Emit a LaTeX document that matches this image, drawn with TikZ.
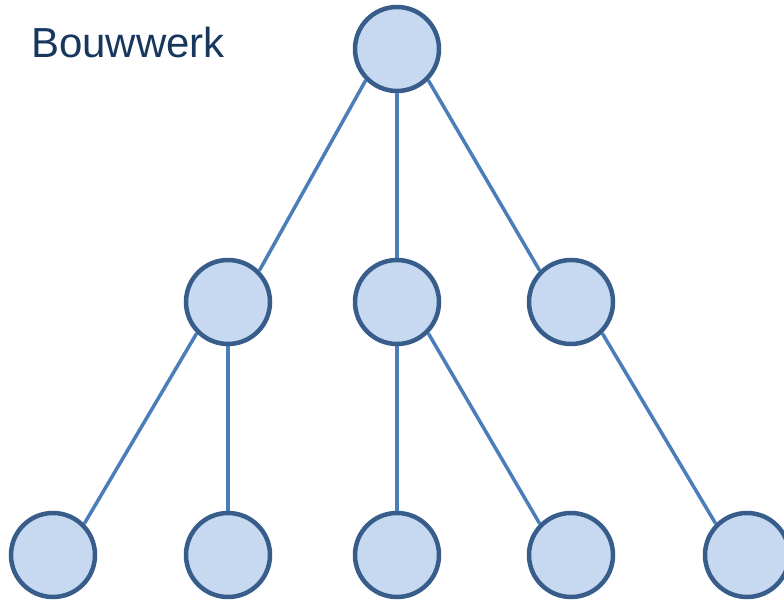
\documentclass[tikz,border=0pt]{standalone}
\usepackage{fontspec}
\setmainfont{Liberation Sans}
\usepackage{tikz}
\usetikzlibrary{arrows,graphs}
\definecolor{knoopvul}{HTML}{C6D9F1}
\definecolor{knooprand}{HTML}{385D8A}
\definecolor{lijnblauw}{HTML}{4A7EBB}
\definecolor{titelblauw}{HTML}{17375E}

\begin{document}
\begin{tikzpicture}[x=1pt,y=-1pt]
						\tikzstyle{vertex}=[circle,draw=knooprand,fill=knoopvul,line width=4.5pt,minimum size=84pt,inner sep=0pt]
						\tikzstyle{edge}=[draw=lijnblauw,line width=3.5pt]
						\useasboundingbox (0,0) rectangle (784,601);
						\node[anchor=base west,inner sep=0pt,text=titelblauw,font=\fontsize{42}{45}\selectfont] (titel) at (31,58) {Bouwwerk};
						\node[vertex] (1) at (397,49) {};
						\node[vertex] (2) at (228,302) {};
						\node[vertex] (3) at (397,302) {};
						\node[vertex] (4) at (571,302) {};
						\node[vertex] (5) at (53,555) {};
						\node[vertex] (6) at (228,555) {};
						\node[vertex] (7) at (397,555) {};
						\node[vertex] (8) at (571,555) {};
						\node[vertex] (9) at (747,555) {};
						\draw[edge] (1.south west) -- (2.north east);
						\draw[edge] (1.south) -- (3.north);
						\draw[edge] (1.south east) -- (4.north west);
						\draw[edge] (2.south west) -- (5.north east);
						\draw[edge] (2.south) -- (6.north);
						\draw[edge] (3.south) -- (7.north);
						\draw[edge] (3.south east) -- (8.north west);
						\draw[edge] (4.south east) -- (9.north west);
						\end{tikzpicture}
\end{document}
